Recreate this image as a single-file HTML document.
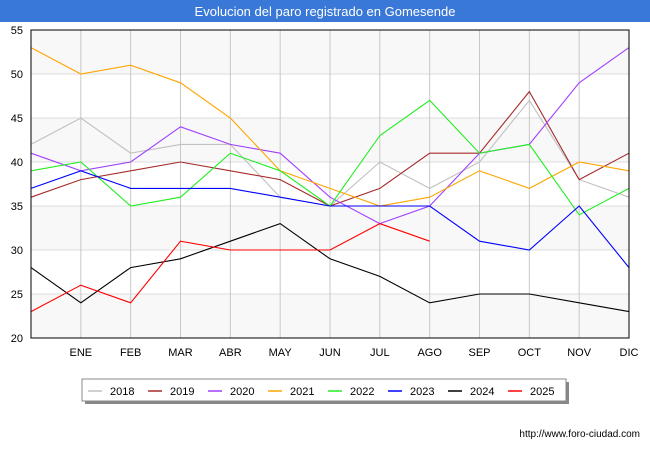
<!DOCTYPE html>
<html><head><meta charset="utf-8"><style>
body{margin:0;background:#fff;font-family:"Liberation Sans",sans-serif}
</style></head><body>
<svg id="c" width="650" height="450" xmlns="http://www.w3.org/2000/svg">
<rect x="0" y="0" width="650" height="22" fill="#3a78d8"/>
<text x="325" y="16" text-anchor="middle" fill="#fff" font-size="13">Evolucion del paro registrado en Gomesende</text>
<g id="grid"></g><g id="series"></g>
<rect x="31" y="30" width="598" height="308" fill="none" stroke="#000" stroke-width="1"/>
<g id="legend"></g>
<text x="640" y="437" text-anchor="end" font-size="10" fill="#000">http://www.foro-ciudad.com</text>
</svg>
<script>
const months=["","ENE","FEB","MAR","ABR","MAY","JUN","JUL","AGO","SEP","OCT","NOV","DIC"];
const yTicks=[20,25,30,35,40,45,50,55];
const seriesNames=["2018","2019","2020","2021","2022","2023","2024","2025"];
const seriesColors=["#c0c0c0","#a52a2a","#a040ff","#ffa500","#22ee22","#0000ff","#000000","#ff0000"];
const v2018=[42,45,41,42,42,36,35,40,37,40,47,38,36];
const v2019=[36,38,39,40,39,38,35,37,41,41,48,38,41];
const v2020=[41,39,40,44,42,41,36,33,35,41,42,49,53];
const v2021=[53,50,51,49,45,39,37,35,36,39,37,40,39];
const v2022=[39,40,35,36,41,39,35,43,47,41,42,34,37];
const v2023=[37,39,37,37,37,36,35,35,35,31,30,35,28];
const v2024=[28,24,28,29,31,33,29,27,24,25,25,24,23];
const v2025=[23,26,24,31,30,30,30,33,31];
const allSeries=[v2018,v2019,v2020,v2021,v2022,v2023,v2024,v2025];
const X0=31,X1=629,Y0=338,Y1=30,NS="http://www.w3.org/2000/svg";
const xs=i=>X0+i*(X1-X0)/12, ys=v=>Y0-(v-20)*(Y0-Y1)/35;
function mk(t,a,p){const e=document.createElementNS(NS,t);for(const k in a)e.setAttribute(k,a[k]);p.appendChild(e);return e;}
const g=document.getElementById('grid');
for(let k=0;k<7;k++){if(k%2==0){const r=mk('rect',{x:X0,y:ys(yTicks[k+1]),width:X1-X0,height:ys(yTicks[k])-ys(yTicks[k+1]),fill:'#f8f8f8'},g);

}}
yTicks.forEach(t=>{const l=mk('line',{x1:X0,x2:X1,y1:ys(t),y2:ys(t),stroke:'#ddd'},g);


const tx=mk('text',{x:X0-8,y:ys(t)+4,'text-anchor':'end','font-size':'11'},g);tx.textContent=t;

});
months.forEach((m,i)=>{if(i>0){const l=mk('line',{x1:xs(i),x2:xs(i),y1:Y1,y2:Y0,stroke:'#c8c8c8'},g);

}
if(m){const tx=mk('text',{x:xs(i),y:356,'text-anchor':'middle','font-size':'11'},g);tx.textContent=m;

}});
const s=document.getElementById('series');
allSeries.forEach((d,j)=>{const p=mk('polyline',{points:d.map((v,i)=>xs(i)+','+ys(v)).join(' '),fill:'none',stroke:seriesColors[j],'stroke-width':'1.1'},s);

});
const lg=document.getElementById('legend');
const sh=mk('rect',{x:85,y:382,width:484,height:22,fill:'#888'},lg);


const bx=mk('rect',{x:82,y:379,width:484,height:22,fill:'#fff',stroke:'#888'},lg);


seriesNames.forEach((n,j)=>{const x0=88+j*60;
const l=mk('line',{x1:x0,x2:x0+14,y1:391,y2:391,stroke:seriesColors[j],'stroke-width':'1.5'},lg);


const t=mk('text',{x:x0+22,y:395,'font-size':'11'},lg);t.textContent=n;

});
</script>
</body></html>
